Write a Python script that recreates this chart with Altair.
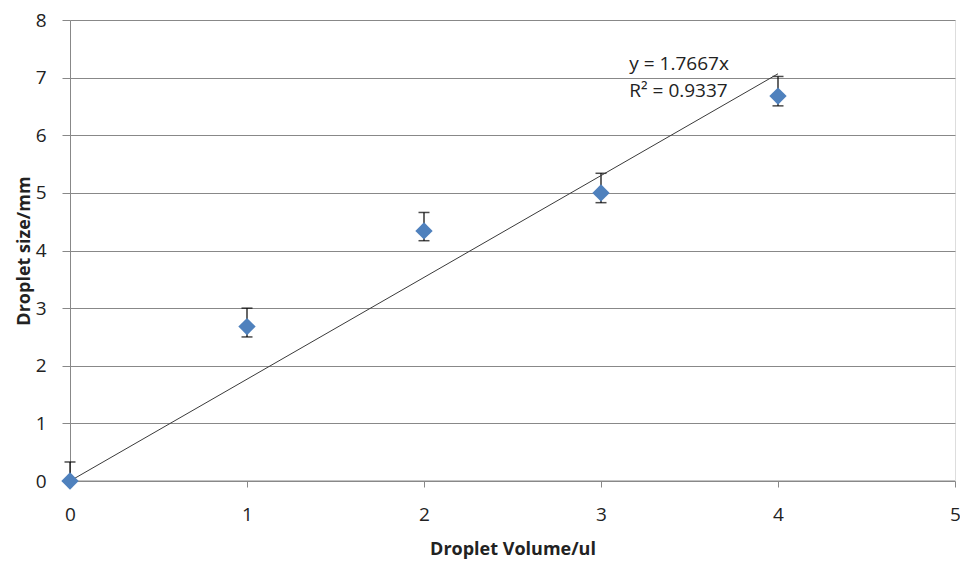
import altair as alt
import pandas as pd

volume = [0, 1, 2, 3, 4]
size = [0.0, 2.68, 4.34, 5.0, 6.68]
err_up = [0.33, 0.32, 0.32, 0.34, 0.34]
err_down = [0.0, 0.18, 0.17, 0.17, 0.17]
slope = 1.7667
eq_lines = ["y = 1.7667x", "R² = 0.9337"]
eq_x = [3.16, 3.16]
eq_y = [7.24, 6.76]

df = pd.DataFrame({
    "v": volume, "s": size,
    "lo": [s - d for s, d in zip(size, err_down)],
    "hi": [s + u for s, u in zip(size, err_up)],
})
trend = pd.DataFrame({"v": [0, 4], "s": [0, slope * 4]})
eq = pd.DataFrame({"t": eq_lines, "x": eq_x, "y": eq_y})

FONT = "Open Sans"
xs = alt.Scale(domain=[0, 5], nice=False, zero=True)
ys = alt.Scale(domain=[0, 8], nice=False)

xax = alt.Axis(values=[0, 1, 2, 3, 4, 5], format="d", grid=False, title="Droplet Volume/ul",
               labelFontSize=19, titleFontSize=18, titleFontWeight="bold",
               labelColor="#222", titleColor="#222", domain=False, labelFlush=False,
               labelBound=False, labelOverlap=False,
               tickColor="#888", tickSize=6, labelPadding=18, titlePadding=16,
               labelFont=FONT, titleFont=FONT)
yax = alt.Axis(values=list(range(9)), format="d", grid=True, gridColor="#888", gridWidth=1,
               title="Droplet size/mm", labelFontSize=19, titleFontSize=18,
               titleFontWeight="bold", labelColor="#222", titleColor="#222",
               labelFlush=False, labelBound=False, labelOverlap=False,
               domainColor="#888", tickColor="#888", tickSize=8, labelPadding=16,
               titlePadding=2, labelFont=FONT, titleFont=FONT)

base = alt.Chart(df)
xaxis_line = alt.Chart(pd.DataFrame({"y": [0]})).mark_rule(color="#888").encode(
    y=alt.Y("y:Q", scale=ys))
errs = base.mark_rule(color="#000", strokeWidth=1.2).encode(
    x=alt.X("v:Q", scale=xs, axis=xax), y=alt.Y("lo:Q", scale=ys, axis=yax), y2="hi:Q")
caps_hi = base.mark_tick(color="#000", orient="horizontal", size=11, thickness=1.5).encode(
    x=alt.X("v:Q", scale=xs), y=alt.Y("hi:Q", scale=ys))
caps_lo = base.mark_tick(color="#000", orient="horizontal", size=11, thickness=1.5).encode(
    x=alt.X("v:Q", scale=xs), y=alt.Y("lo:Q", scale=ys))
line = alt.Chart(trend).mark_line(color="#3a3a3a", strokeWidth=1).encode(
    x=alt.X("v:Q", scale=xs), y=alt.Y("s:Q", scale=ys))
pts = base.mark_point(shape="diamond", filled=True, color="#4F81BD", size=300, opacity=1).encode(
    x=alt.X("v:Q", scale=xs), y=alt.Y("s:Q", scale=ys))
txt = alt.Chart(eq).mark_text(align="left", baseline="middle", fontSize=19, font=FONT,
                              color="#222").encode(
    x=alt.X("x:Q", scale=xs), y=alt.Y("y:Q", scale=ys), text="t:N")

chart = alt.layer(errs, xaxis_line, caps_hi, caps_lo, line, pts, txt).properties(
    width=885, height=461,
    autosize=alt.AutoSizeParams(type="none"),
    padding={"left": 62, "top": 12, "right": 5, "bottom": 84},
).configure_view(stroke=None).configure(background="white")

chart.save("out.html", embed_options={"renderer": "svg", "actions": False})
